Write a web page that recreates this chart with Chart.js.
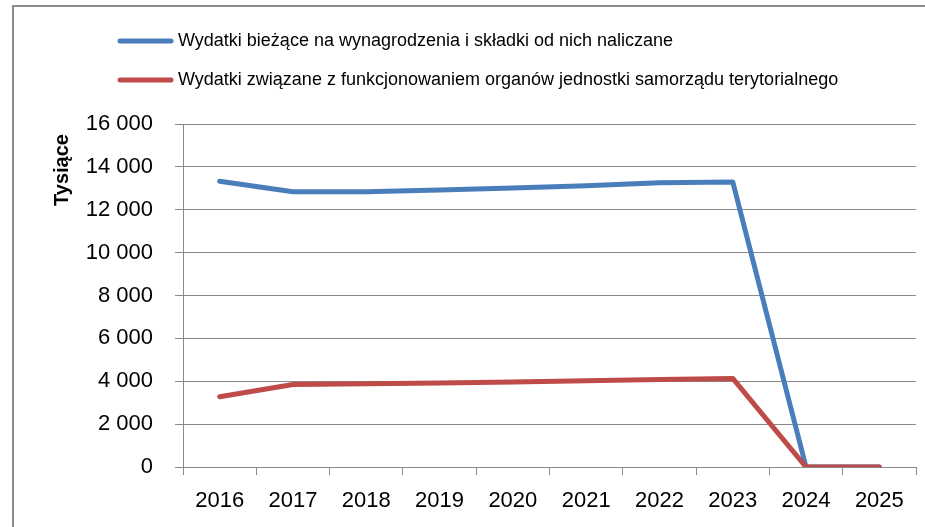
<!DOCTYPE html>
<html>
<head>
<meta charset="utf-8">
<script src="https://cdn.jsdelivr.net/npm/chart.js@4"></script>
<style>
  html, body { margin: 0; padding: 0; background: #fff; }
  canvas { display: block; }
</style>
</head>
<body>
<canvas id="myChart" width="925" height="527"></canvas>
<script>
// data (thousands)
const years = ['2016', '2017', '2018', '2019', '2020', '2021', '2022', '2023', '2024', '2025'];
const wynagrodzenia = [13330, 12840, 12840, 12920, 13010, 13120, 13260, 13300, 0, 0];
const organy = [3280, 3850, 3880, 3920, 3960, 4020, 4080, 4130, 0, 0];
const seriesNames = [
  'Wydatki bieżące na wynagrodzenia i składki od nich naliczane',
  'Wydatki związane z funkcjonowaniem organów jednostki samorządu terytorialnego'
];
const seriesColors = ['#4A7EBB', '#BE4B48'];
const yMin = 0, yMax = 16000, yStep = 2000;
const yTitle = 'Tysiące';

const fmt = v => String(v).replace(/\B(?=(\d{3})+(?!\d))/g, ' ');
const gridColor = '#8a8a8a';

// frame, y title and legend drawn by hand so they sit where the original has them
const extras = {
  id: 'extras',
  afterDraw(chart) {
    const ctx = chart.ctx;
    ctx.save();
    // outer frame (cut off on the right and bottom in the original)
    ctx.strokeStyle = '#8c8c8c';
    ctx.lineWidth = 2;
    ctx.beginPath();
    ctx.moveTo(13, 560);
    ctx.lineTo(13, 6);
    ctx.lineTo(940, 6);
    ctx.stroke();

    // y axis title
    ctx.fillStyle = '#000';
    ctx.font = 'bold 20px "Liberation Sans", Arial, sans-serif';
    ctx.translate(62, 170);
    ctx.rotate(-Math.PI / 2);
    ctx.textAlign = 'center';
    ctx.textBaseline = 'middle';
    ctx.fillText(yTitle, 0, 0);
    ctx.restore();

    // legend, one item per row
    ctx.save();
    ctx.font = '18px "Liberation Sans", Arial, sans-serif';
    ctx.textBaseline = 'middle';
    ctx.textAlign = 'left';
    const rows = [41, 80];
    chart.data.datasets.forEach((ds, i) => {
      const y = rows[i];
      ctx.strokeStyle = ds.borderColor;
      ctx.lineWidth = 5;
      ctx.lineCap = 'round';
      ctx.beginPath();
      ctx.moveTo(120, y);
      ctx.lineTo(171, y);
      ctx.stroke();
      ctx.fillStyle = '#000';
      ctx.fillText(ds.label, 178, y);
    });
    ctx.restore();
  }
};

const ctx = document.getElementById('myChart').getContext('2d');
new Chart(ctx, {
  type: 'line',
  data: {
    labels: years,
    datasets: [{
      label: seriesNames[0],
      data: wynagrodzenia,
      borderColor: seriesColors[0],
      borderWidth: 5,
      pointRadius: 0,
      borderCapStyle: 'round',
      borderJoinStyle: 'round',
      fill: false,
      order: 2
    }, {
      label: seriesNames[1],
      data: organy,
      borderColor: seriesColors[1],
      borderWidth: 5,
      pointRadius: 0,
      borderCapStyle: 'round',
      borderJoinStyle: 'round',
      fill: false,
      order: 1
    }]
  },
  options: {
    responsive: false,
    animation: false,
    layout: { padding: { left: 0, top: 124, right: 9, bottom: 0 } },
    plugins: {
      legend: { display: false },
      tooltip: { enabled: false }
    },
    scales: {
      x: {
        offset: true,
        grid: {
          offset: true,
          drawOnChartArea: false,
          drawTicks: true,
          tickLength: 8,
          color: gridColor,
          lineWidth: 1
        },
        border: { display: true, color: gridColor, width: 1 },
        ticks: {
          color: '#000',
          padding: 13,
          font: { family: '"Liberation Sans", Arial, sans-serif', size: 22 }
        },
        afterFit(scale) { scale.height = 60; }
      },
      y: {
        min: yMin,
        max: yMax,
        grid: {
          drawTicks: true,
          tickLength: 8,
          color: gridColor,
          lineWidth: 1
        },
        border: { display: true, color: gridColor, width: 1 },
        ticks: {
          stepSize: yStep,
          color: '#000',
          padding: 22,
          font: { family: '"Liberation Sans", Arial, sans-serif', size: 22 },
          callback: v => fmt(v)
        },
        afterFit(scale) { scale.width = 183; }
      }
    }
  },
  plugins: [extras]
});
</script>
</body>
</html>
